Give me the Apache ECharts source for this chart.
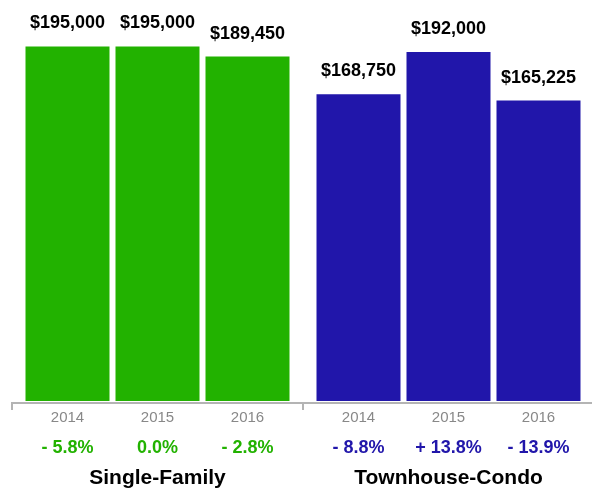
<!DOCTYPE html>
<html>
<head>
<meta charset="utf-8">
<script src="https://cdn.jsdelivr.net/npm/echarts@6/dist/echarts.min.js"></script>
<style>
  html, body { margin: 0; padding: 0; background: #fff; }
  #chart { width: 592px; height: 490px; }
</style>
</head>
<body>
<div id="chart"></div>
<script>
// Median sale prices by year, split by property type
const years = ['2014', '2015', '2016'];
const groupNames = ['Single-Family', 'Townhouse-Condo'];
const singleFamilyPrices = [195000, 195000, 189450];
const townhouseCondoPrices = [168750, 192000, 165225];
const singleFamilyChange = ['- 5.8%', '0.0%', '- 2.8%'];
const townhouseCondoChange = ['- 8.8%', '+ 13.8%', '- 13.9%'];

const GREEN = '#22b200';
const BLUE = '#2116aa';
const FONT = '"Liberation Sans", Arial, Helvetica, sans-serif';

function money(v) {
  return '$' + v.toLocaleString('en-US');
}

function xAxisFor(gridIndex, name, changes, color) {
  return {
    type: 'category',
    gridIndex: gridIndex,
    data: years,
    name: name,
    nameLocation: 'middle',
    nameGap: 67,
    nameTextStyle: { color: '#000', fontSize: 21, fontWeight: 'bold', fontFamily: FONT },
    axisLine: { show: false },
    axisTick: { show: false },
    axisLabel: {
      margin: 6,
      interval: 0,
      formatter: function (value, idx) {
        return '{y|' + value + '}\n{p|' + changes[idx] + '}';
      },
      rich: {
        y: { color: '#888888', fontSize: 15, lineHeight: 22, fontFamily: FONT },
        p: { color: color, fontSize: 18, fontWeight: 'bold', lineHeight: 38, fontFamily: FONT }
      }
    }
  };
}

function yAxisFor(gridIndex) {
  return {
    type: 'value',
    gridIndex: gridIndex,
    min: 0,
    max: 220000,
    show: false
  };
}

function barSeries(index, values, color) {
  return {
    type: 'bar',
    xAxisIndex: index,
    yAxisIndex: index,
    data: values,
    barWidth: 84,
    itemStyle: { color: color },
    label: {
      show: true,
      position: 'top',
      distance: 14,
      color: '#000',
      fontSize: 18,
      fontWeight: 'bold',
      fontFamily: FONT,
      formatter: function (p) { return money(p.value); }
    },
    animation: false
  };
}

const chart = echarts.init(document.getElementById('chart'), null, { renderer: 'canvas' });

chart.setOption({
  backgroundColor: '#fff',
  animation: false,
  grid: [
    { left: 22.5, width: 270, top: 1, bottom: 89, outerBoundsMode: 'none', containLabel: false },
    { left: 313.5, width: 270, top: 1, bottom: 89, outerBoundsMode: 'none', containLabel: false }
  ],
  xAxis: [
    xAxisFor(0, groupNames[0], singleFamilyChange, GREEN),
    xAxisFor(1, groupNames[1], townhouseCondoChange, BLUE)
  ],
  yAxis: [yAxisFor(0), yAxisFor(1)],
  series: [
    barSeries(0, singleFamilyPrices, GREEN),
    barSeries(1, townhouseCondoPrices, BLUE)
  ],
  graphic: [
    // shared baseline with tick marks at the left edge and between groups
    { type: 'line', shape: { x1: 11, y1: 403, x2: 592, y2: 403 }, style: { stroke: '#b4b4b4', lineWidth: 2 } },
    { type: 'line', shape: { x1: 12, y1: 403, x2: 12, y2: 410 }, style: { stroke: '#b4b4b4', lineWidth: 2 } },
    { type: 'line', shape: { x1: 303, y1: 403, x2: 303, y2: 410 }, style: { stroke: '#b4b4b4', lineWidth: 2 } }
  ]
});
</script>
</body>
</html>
